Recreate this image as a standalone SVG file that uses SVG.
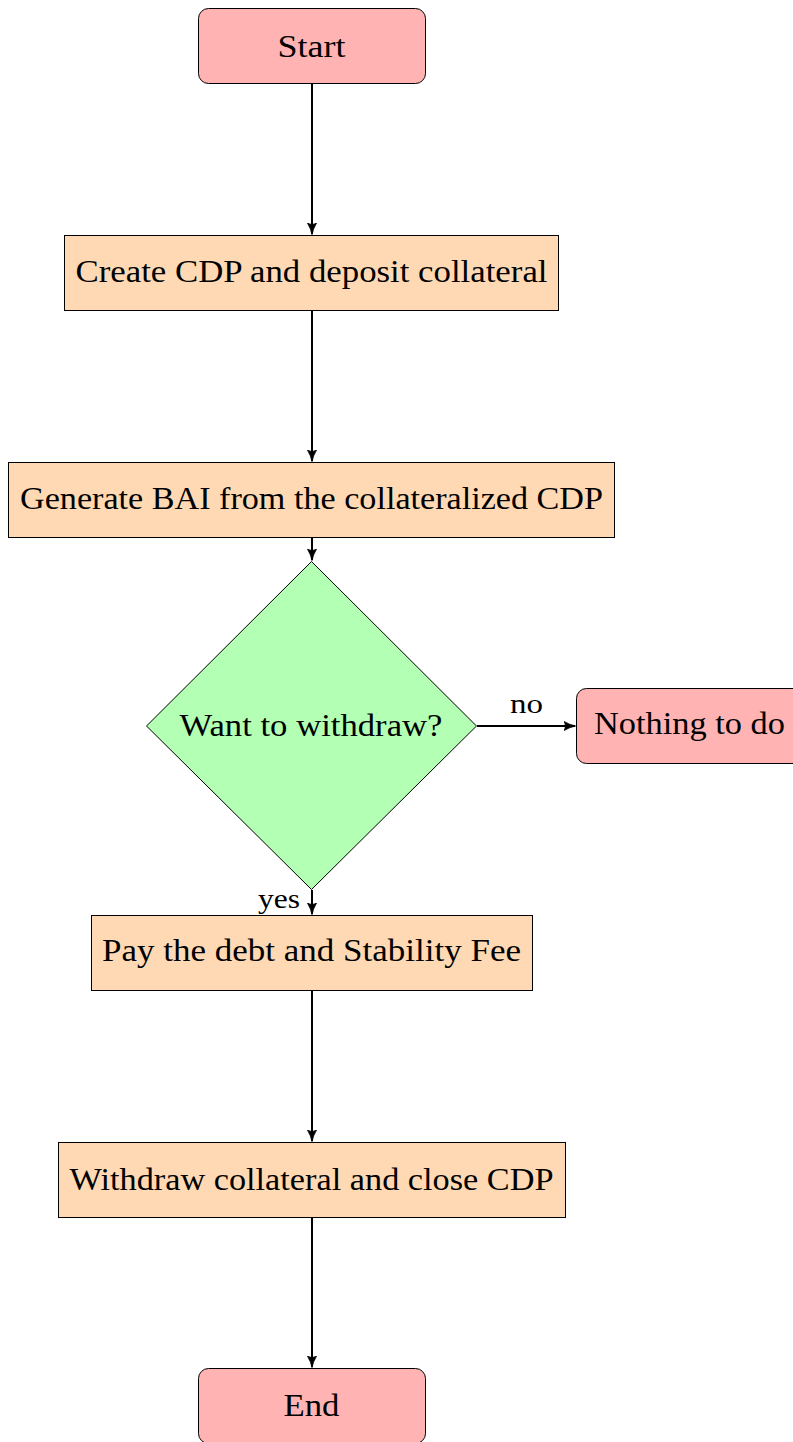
<svg xmlns="http://www.w3.org/2000/svg" width="793" height="1442" viewBox="0 0 793 1442">
<style>
.term{fill:#FFB3B3;stroke:#000;stroke-width:1}
.proc{fill:#FFD9B3;stroke:#000;stroke-width:1}
.dec{fill:#B3FFB3;stroke:#000;stroke-width:1}
text{font-family:"Liberation Serif","DejaVu Serif",serif;font-size:31px;fill:#000}
.lbl{font-size:27px}
.c{text-anchor:middle}
.edge{stroke:#000;stroke-width:2;fill:none;marker-end:url(#arr)}
</style>
<defs>
<marker id="arr" viewBox="0 0 10 10" refX="9.5" refY="5" markerWidth="12" markerHeight="12" markerUnits="userSpaceOnUse" orient="auto">
<path d="M0,1 Q5,4 10,5 Q5,6 0,9 Q3,5 0,1 Z" fill="#000" stroke="#000" stroke-width="0.6" stroke-linejoin="round"/>
</marker>
</defs>
<rect width="793" height="1442" fill="#fff"/>
<g id="start"><rect class="term" x="198.5" y="8.5" width="227" height="75" rx="10"/><text class="c" x="311.5" y="57" textLength="68" lengthAdjust="spacingAndGlyphs">Start</text></g>
<g id="create"><rect class="proc" x="64.5" y="235.5" width="494" height="75"/><text class="c" x="311.5" y="282" textLength="472" lengthAdjust="spacingAndGlyphs">Create CDP and deposit collateral</text></g>
<g id="generate"><rect class="proc" x="8.5" y="462.5" width="606" height="75"/><text class="c" x="311.5" y="509" textLength="583" lengthAdjust="spacingAndGlyphs">Generate BAI from the collateralized CDP</text></g>
<g id="decision"><polygon class="dec" points="311.5,561.5 476.5,726 311.5,889.5 146.5,726"/><text class="c" x="311" y="736" textLength="263" lengthAdjust="spacingAndGlyphs">Want to withdraw?</text></g>
<g id="nothing"><rect class="term" x="576.5" y="688.5" width="230" height="75" rx="10"/><text x="594" y="734" textLength="191" lengthAdjust="spacingAndGlyphs">Nothing to do</text></g>
<g id="pay"><rect class="proc" x="91.5" y="915.5" width="441" height="75"/><text class="c" x="311.5" y="961" textLength="419" lengthAdjust="spacingAndGlyphs">Pay the debt and Stability Fee</text></g>
<g id="withdraw"><rect class="proc" x="58.5" y="1142.5" width="507" height="75"/><text class="c" x="311.5" y="1190" textLength="484" lengthAdjust="spacingAndGlyphs">Withdraw collateral and close CDP</text></g>
<g id="end"><rect class="term" x="198.5" y="1368.5" width="227" height="75" rx="10"/><text class="c" x="311.5" y="1416" textLength="56" lengthAdjust="spacingAndGlyphs">End</text></g>
<g id="connectors">
<line class="edge" x1="312" y1="84" x2="312" y2="234"/>
<line class="edge" x1="312" y1="311" x2="312" y2="461"/>
<line class="edge" x1="312" y1="538" x2="312" y2="560"/>
<line class="edge" x1="477" y1="726" x2="575" y2="726"/>
<line class="edge" x1="312" y1="890" x2="312" y2="914"/>
<line class="edge" x1="312" y1="991" x2="312" y2="1141"/>
<line class="edge" x1="312" y1="1218" x2="312" y2="1367"/>
<text class="lbl" x="526.5" y="713" text-anchor="middle" textLength="33" lengthAdjust="spacingAndGlyphs">no</text>
<text class="lbl" x="279" y="908" text-anchor="middle" textLength="42" lengthAdjust="spacingAndGlyphs">yes</text>
</g>
</svg>
